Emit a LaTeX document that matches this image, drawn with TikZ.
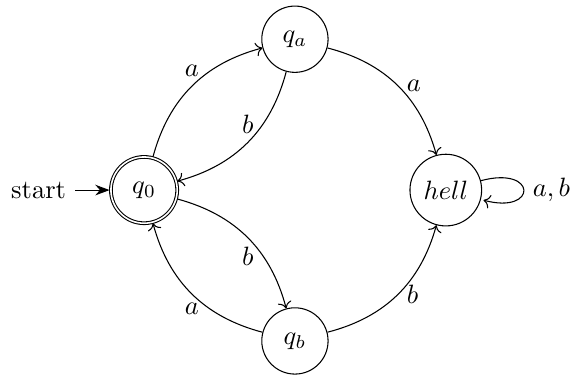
\documentclass[tikz,border=0pt]{standalone}
\usetikzlibrary{automata,positioning,arrows.meta}
\begin{document}
\begin{tikzpicture}[on grid,every state/.style={minimum size=25pt}]
\useasboundingbox (-1.91,-2.48) rectangle (5.66,2.52);
\node[state,accepting] (q0) {$q_0$};
\node[anchor=east] (start) at ([xshift=-3ex]q0.west) {start};
\node[state] (qa) [above right=2cm and 2cm of q0] {$q_a$};
\node[state] (qb) [below right=2cm and 2cm of q0] {$q_b$};
\node[state] (hell) [right=4cm of q0] {$hell$};
\draw[-{Stealth[length=5.4pt,width=4pt]}] (start) -- (q0);
\path[->] (q0) edge[bend left] node[above] {$a$} (qa)
  (qa) edge[bend left] node[above] {$b$} (q0)
  (q0) edge[bend left] node[below] {$b$} (qb)
  (qb) edge[bend left] node[below] {$a$} (q0)
  (qa) edge[bend left] node[right] {$a$} (hell)
  (qb) edge[bend right] node[right] {$b$} (hell)
  (hell) edge[loop right] node[right] {$a,b$} (hell);
\end{tikzpicture}
\end{document}
